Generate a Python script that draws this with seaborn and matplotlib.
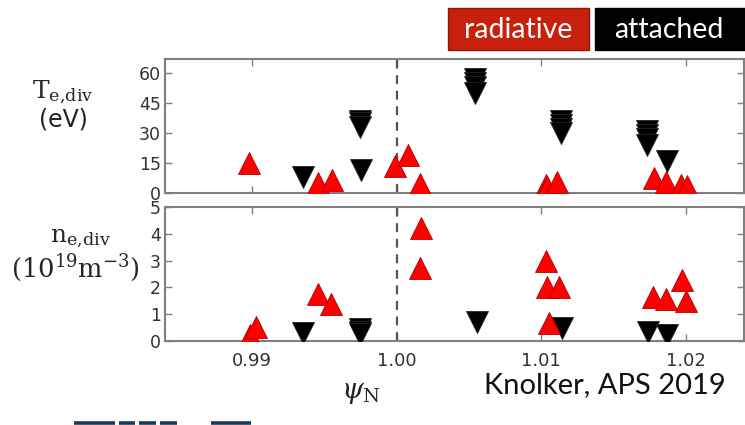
import matplotlib
matplotlib.use("Agg")
import matplotlib.pyplot as plt
import seaborn as sns
import pandas as pd
from matplotlib.lines import Line2D
from matplotlib.patches import Rectangle

# Divertor electron temperature (eV) vs psi_N
rad_psi_T = [0.9898, 0.99455, 0.99552, 0.99986, 1.00076, 1.00159, 1.01034, 1.01040, 1.0111,
             1.0178, 1.01862, 1.01966, 1.02007]
rad_T = [15, 4.8, 6.5, 13.5, 19, 4.7, 4.0, 3.0, 5.5, 7.3, 5.5, 4.0, 3.5]
att_psi_T = [0.99352, 0.99745, 0.99745, 0.99745, 0.99752,
             1.00545, 1.00545, 1.00545, 1.00545,
             1.01138, 1.01138, 1.01138, 1.01138,
             1.01731, 1.01731, 1.01731, 1.01731, 1.01869]
att_T = [8, 36, 35, 33, 11.5,
         57, 55, 53, 50,
         36, 34, 32, 30,
         31, 29, 27, 24, 16]

# Divertor electron density (1e19 m^-3) vs psi_N
rad_psi_n = [0.98986, 0.99028, 0.99455, 0.99545, 1.00172, 1.00159, 1.01034, 1.01041, 1.01124,
             1.01055, 1.01772, 1.01862, 1.01972, 1.0200]
rad_n = [0.23, 0.54, 1.77, 1.39, 4.2, 2.74, 2.97, 2.03, 2.03, 0.68, 1.65, 1.58, 2.26, 1.5]
att_psi_n = [0.99352, 0.9975, 0.9975, 0.9975, 1.00552, 1.01145, 1.01738, 1.01869]
att_n = [0.30, 0.45, 0.35, 0.25, 0.71, 0.49, 0.34, 0.23]

x_ticks = [0.99, 1.00, 1.01, 1.02]
x_ticklabels = ["0.99", "1.00", "1.01", "1.02"]
T_ticks = [0, 15, 30, 45, 60]
n_ticks = [0, 1, 2, 3, 4, 5]

sns.set_theme(style="white")
plt.rcParams["font.family"] = ["DejaVu Sans"]
plt.rcParams["mathtext.fontset"] = "dejavuserif"

W, H = 745, 425
fig = plt.figure(figsize=(W / 100, H / 100), dpi=100)
ax_T = fig.add_axes([165 / W, 1 - 193 / H, 579 / W, 134 / H])
ax_n = fig.add_axes([165 / W, 1 - 341 / H, 579 / W, 134 / H])

RED = "#ff0000"
RED_EDGE = "#b00000"
MS = 250


def draw(ax, rx, ry, bx, by):
    df_r = pd.DataFrame({"psi": rx, "val": ry})
    df_b = pd.DataFrame({"psi": bx, "val": by})
    sns.scatterplot(data=df_b, x="psi", y="val", ax=ax, marker="v", s=MS,
                    color="black", edgecolor="#222222", linewidth=0.6, zorder=3)
    sns.scatterplot(data=df_r, x="psi", y="val", ax=ax, marker="^", s=MS,
                    color=RED, edgecolor=RED_EDGE, linewidth=0.6, zorder=4)
    ax.axvline(1.0, color="#555555", linestyle=(0, (4, 3)), linewidth=1.6, zorder=1)
    ax.set_xlim(0.984, 1.024)
    ax.set_xticks(x_ticks)
    ax.set_xlabel("")
    ax.set_ylabel("")
    for sp in ax.spines.values():
        sp.set_color("#7f7f7f")
        sp.set_linewidth(1.5)
    ax.tick_params(direction="in", top=True, right=True, bottom=True, left=True,
                   length=5, width=1, color="#7f7f7f", labelsize=13, labelcolor="#333333",
                   pad=3)


draw(ax_T, rad_psi_T, rad_T, att_psi_T, att_T)
ax_T.set_ylim(0, 67)
ax_T.set_yticks(T_ticks)
ax_T.set_xticklabels([])
ax_T.tick_params(axis="y", labelsize=12.5)

draw(ax_n, rad_psi_n, rad_n, att_psi_n, att_n)
ax_n.set_ylim(0, 5)
ax_n.set_yticks(n_ticks)
ax_n.set_xticklabels(x_ticklabels)
ax_n.tick_params(axis="x", pad=8)
ax_n.tick_params(axis="y", labelsize=12.5)

# Axis titles
fig.text(63 / W, 1 - 92 / H, r"$\mathrm{T_{e{,}div}}$", fontsize=18, ha="center", va="center")
fig.text(63 / W, 1 - 119 / H, "(eV)", fontsize=17, ha="center", va="center",
         color="#222222")
fig.text(80 / W, 1 - 238 / H, r"$\mathrm{n_{e{,}div}}$", fontsize=18, ha="center", va="center")
fig.text(75 / W, 1 - 268 / H, r"$(10^{19}\mathrm{m}^{-3})$", fontsize=18.5, ha="center",
         va="center")
fig.text(361 / W, 1 - 392 / H, r"$\psi_\mathrm{N}$", fontsize=20, ha="center", va="center")

fig.text(605 / W, 1 - 385 / H, "Knolker, APS 2019", fontsize=21, ha="center",
         va="center", family=["Lato", "DejaVu Sans"], color="#111111")

# Legend boxes
fig.add_artist(Rectangle((448 / W, 1 - 50 / H), 141 / W, 42 / H, transform=fig.transFigure,
                         facecolor="#c8200c", edgecolor="#8a1a10", linewidth=1))
fig.add_artist(Rectangle((595 / W, 1 - 50 / H), 150 / W, 42 / H, transform=fig.transFigure,
                         facecolor="black", edgecolor="black", linewidth=1))
fig.text(518 / W, 1 - 30 / H, "radiative", fontsize=20.5, ha="center", va="center",
         color="white", family=["Lato", "DejaVu Sans"])
fig.text(669 / W, 1 - 30 / H, "attached", fontsize=20.5, ha="center", va="center",
         color="white", family=["Lato", "DejaVu Sans"])

# Dashed logo strip along the bottom edge
for x0, x1 in [(74, 115), (119, 135), (139, 156), (160, 177), (211, 251)]:
    fig.add_artist(Line2D([x0 / W, x1 / W], [1 - 422.5 / H, 1 - 422.5 / H],
                          color="#1a3a5c", linewidth=2.6, solid_capstyle="butt"))

fig.savefig("out.png", dpi=100)
